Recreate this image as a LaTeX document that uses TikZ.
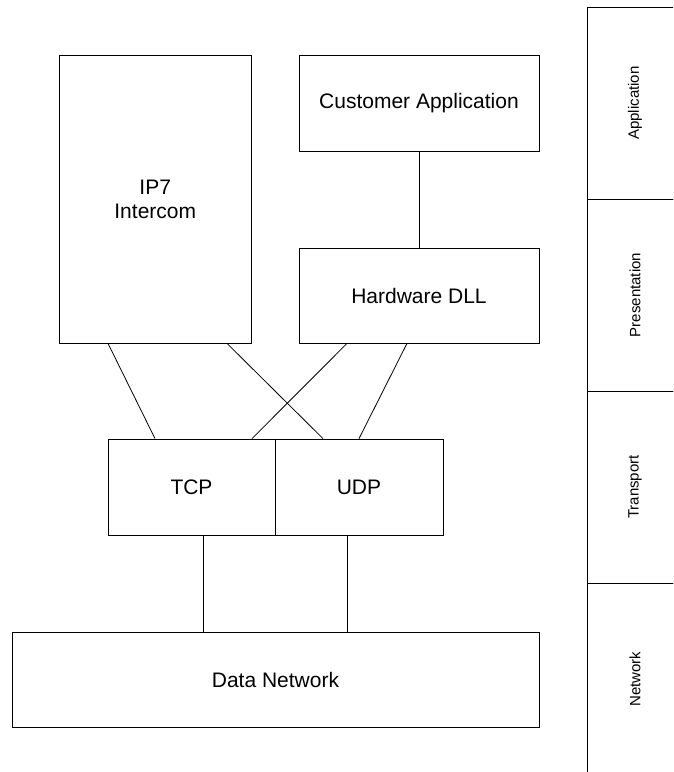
\documentclass[tikz,border=0pt]{standalone}
\usepackage{fontspec}
\setmainfont{Liberation Sans}
\usepackage{tikz}

\begin{document}
\begin{tikzpicture}[x=1pt, y=-1pt,
	block/.style={font=\fontsize{21}{24}\selectfont, draw, line width=0.8, inner sep=3, align=center},
	layer/.style={font=\fontsize{15}{18}\selectfont, draw, line width=0.8, rotate=90, minimum width=192, minimum height=96, inner sep=0}
]
\clip (0,0) rectangle (673,772);

\node[block, minimum width=191.5, minimum height=288] (ip7) at (155.25,199) {IP7\\Intercom};
\node[block, minimum width=240, minimum height=96] (custapp) at (419,103) {Customer Application};
\node[block, minimum width=240, minimum height=95] (hwdll) at (419,295.5) {Hardware DLL};

\node[block, minimum width=167, minimum height=96] (tcp) at (191.5,487) {TCP};
\node[block, minimum width=168, minimum height=96] (udp) at (359,487) {UDP};

\node[block, minimum width=527, minimum height=95] (datanet) at (275.5,679.5) {Data Network};

\node[layer] (lapp) at (635,103) {Application};
\node[layer] (lpres) at (635,295) {Presentation};
\node[layer] (ltrans) at (635,487) {Transport};
\node[layer] (lnet) at (635,679) {Network};

\draw[line width=0.8]  (custapp) -- (hwdll);

\draw[line width=0.8]  ([xshift=-47.25]ip7.south) -- ([xshift=-36.5]tcp.north);
\draw[line width=0.8]  ([xshift=71.75]ip7.south) -- ([xshift=-36]udp.north);
\draw[line width=0.8]  ([xshift=-72]hwdll.south) -- ([xshift=60.5]tcp.north);
\draw[line width=0.8]  ([xshift=-12]hwdll.south) -- (udp.north);

\draw[line width=0.8]  ([xshift=11.5]tcp.south) -- ([xshift=11.5]tcp.south |- datanet.north);
\draw[line width=0.8]  ([xshift=-12]udp.south) -- ([xshift=-12]udp.south |- datanet.north);
\end{tikzpicture}
\end{document}
